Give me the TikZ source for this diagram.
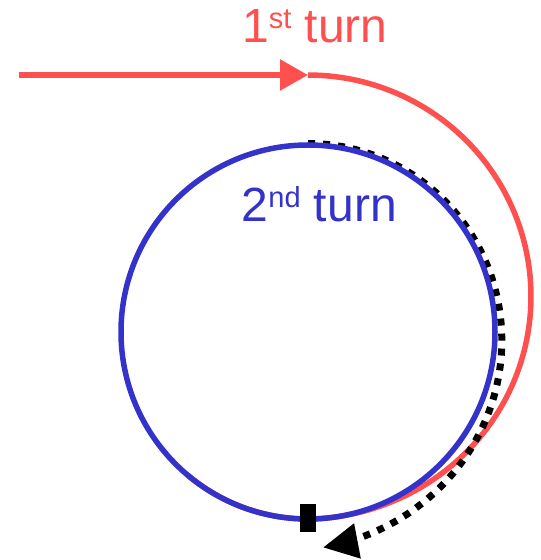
\documentclass[tikz,border=0pt]{standalone}
\usepackage{fontspec}
\setmainfont{Liberation Sans}
\usetikzlibrary{arrows.meta,positioning,calc}
\definecolor{turnred}{HTML}{FF5050}
\definecolor{turnblue}{HTML}{3333CC}
\newcommand{\ordsup}[1]{\raisebox{0.3em}{\fontsize{29}{31}\selectfont #1}}
\tikzset{
  turn/first/.style={draw=turnred, line width=5.5pt},
  turn/second/.style={draw=turnblue, line width=5.5pt},
  turn/arr/.style={-{Triangle[length=28pt,width=30pt]}},
  turn/next/.style={draw=black, line width=7pt, dash pattern=on 7pt off 8pt, -{Triangle[length=35pt,width=34pt]}},
  turn/label/.style={anchor=base west, inner sep=0pt, font=\fontsize{48}{54}\selectfont},
  turn/mark/.style={fill=black, inner sep=0pt, minimum width=16pt, minimum height=28pt}
}

\begin{document}
\begin{tikzpicture}[x=1pt,y=1pt]
  \useasboundingbox (0,0) rectangle (541,560);
  \coordinate (centre) at (308,228);
  \coordinate (entry) at (19,485);
  \coordinate (top) at ($(centre)+(90:257)$);

  % first turn, spiralling in onto the circle
  \draw[turn/first, turn/arr] (entry) -- (top);
  \draw[turn/first, shift={(centre)}] plot[domain=90:-84, samples=120] (\x:{187+35*(1+cos((90-\x)/174*180))})
    arc[start angle=-84, end angle=-130, radius=187pt];

  % where the next turn goes
  \draw[turn/next, shift={(centre)}] plot[domain=90:-86, samples=120] (\x:{188.5+27.5*((90-\x)/176)^2*sqrt((90-\x)/176)});

  % second turn
  \draw[turn/second] (centre) circle[radius=187pt];
  \node[turn/mark] (start) at ($(centre)+(-90:186)$) {};

  \node[turn/label, text=turnred] (first) at (242,517) {1\ordsup{st} turn};
  \node[turn/label, text=turnblue] (second) at (241.5,338) {2\ordsup{nd} turn};
\end{tikzpicture}
\end{document}
